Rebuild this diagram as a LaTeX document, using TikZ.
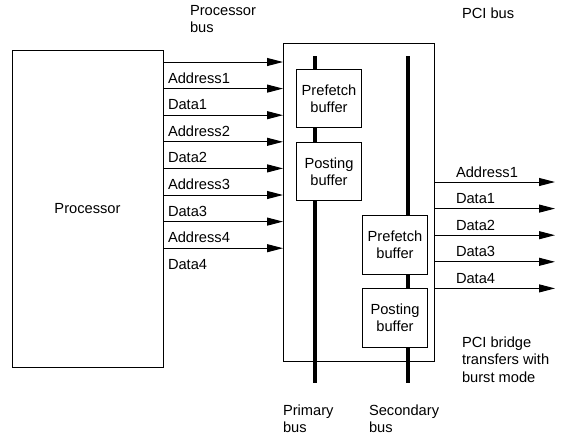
\documentclass[tikz,border=0pt]{standalone}
\usepackage{fontspec}
\setmainfont{Liberation Sans}
\usepackage{tikz}
\usetikzlibrary{arrows.meta}
\tikzset{
    blocknode/.style = {
        rectangle,
        draw=black,
        line width=0.75pt,
        align=center,
        inner sep=0pt,
        outer sep=0mm,
        font=\fontsize{11}{13}\selectfont
    },
    buffernode/.style = {
        blocknode,
        fill=white,
        minimum width=49pt,
        minimum height=44pt
    },
    textnode/.style = {
        align=left,
        inner sep=0pt,
        outer sep=0mm,
        font=\fontsize{11}{13}\selectfont
    },
    busline/.style = {
        line width=3.5pt
    },
    sigarrow/.style = {
        line width=0.75pt,
        -{Triangle[length=12pt,width=6pt]}
    }
}

\begin{document}
\begin{tikzpicture}[x=0.75pt,y=-0.75pt]
    \useasboundingbox (0,0) rectangle (561,440);
    \node [blocknode, minimum width=113.25pt, minimum height=237.75pt] (proc) at (87.5,208.5) {Processor};
    \node [blocknode, minimum width=113.25pt, minimum height=238.5pt] (bridge) at (358.5,202) {};
    % buses
    \coordinate (primtop) at (315,56);
    \coordinate (primbot) at (315,383);
    \coordinate (sectop) at (408,56);
    \coordinate (secbot) at (408,383);
    \draw [busline] (primtop) -- (primbot);
    \draw [busline] (sectop) -- (secbot);
    \node [buffernode] (primfetch) at (329,98.5) {Prefetch\\buffer};
    \node [buffernode] (primpost) at (329,171.5) {Posting\\buffer};
    \node [buffernode] (secfetch) at (395,245) {Prefetch\\buffer};
    \node [buffernode] (secpost) at (395,318) {Posting\\buffer};
    % processor side
    \foreach \lbl [count=\i from 0] in {Address1,Data1,Address2,Data2,Address3,Data3,Address4,Data4} {
        \pgfmathsetmacro\ya{62+26.6*\i}
        \draw [sigarrow] (proc.east |- 0,\ya) -- (bridge.west |- 0,\ya);
        \node [textnode, anchor=base west] at (168,\ya+21) {\lbl};
    }
    % pci side
    \foreach \lbl [count=\i from 0] in {Address1,Data1,Data2,Data3,Data4} {
        \pgfmathsetmacro\yb{182+26.6*\i}
        \coordinate (pciend\i) at (555,\yb);
        \draw [sigarrow] (bridge.east |- 0,\yb) -- (pciend\i);
        \node [textnode, anchor=base west] at (456,\yb-5) {\lbl};
    }
    \node [textnode, anchor=north west] (procbus) at (190,5) {Processor\\bus};
    \node [textnode, anchor=north west] (pcibus) at (462,8) {PCI bus};
    \node [textnode, anchor=north west] (burst) at (462,337) {PCI bridge\\transfers with\\burst mode};
    \node [textnode, anchor=north west] (primbus) at (283,405) {Primary\\bus};
    \node [textnode, anchor=north west] (secbus) at (369,405) {Secondary\\bus};
\end{tikzpicture}
\end{document}
